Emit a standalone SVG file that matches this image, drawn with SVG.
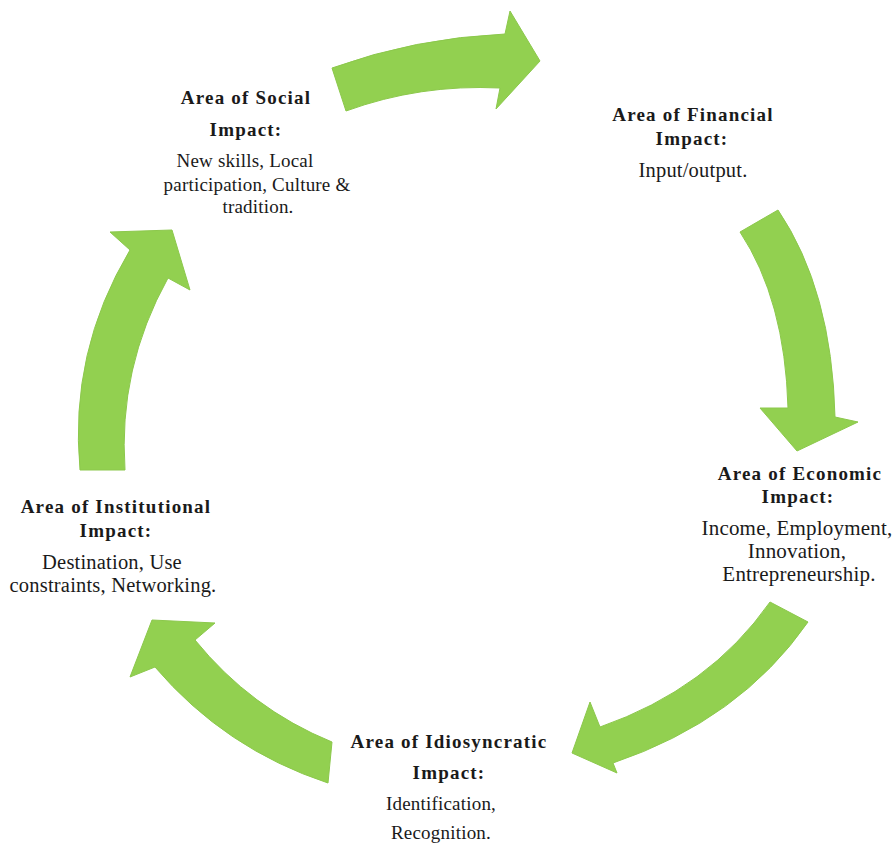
<svg xmlns="http://www.w3.org/2000/svg" width="896" height="845" viewBox="0 0 896 845">
<style>
.arrow{fill:#92D050;stroke:#8cc84c;stroke-width:1;stroke-linejoin:round}
text{font-family:"Liberation Serif","Times New Roman",serif;font-size:19px;letter-spacing:0.2px;fill:#1a1a1a;text-anchor:middle}
.t{font-weight:bold;letter-spacing:1.2px}
.m{font-size:20.5px}
.l{font-size:21px}
</style>
<rect width="896" height="845" fill="#ffffff"/>
<g id="connectors">
<path class="arrow" d="M332,68 Q415,38 505,34 L510,11 L540,61 L496,109 L500,88 Q420,84 346,111 Z"/>
<path class="arrow" d="M740,232 Q785,300 788,408 L760,408 L797,451 L858,422 L835,417 Q832,290 778,210 Z"/>
<path class="arrow" d="M770,602 Q709,689 600,727 L590,702 L572,753 L617,773 L613,763 Q740,720 808,622 Z"/>
<path class="arrow" d="M152,620 L215,623 L195,640 Q251,709 332,742 L328,783 Q225,749 155,667 L130,677 Z"/>
<path class="arrow" d="M172,230 L190,290 L168,278 Q118,368 125,470 L80,470 Q69,352 130,250 L110,232 Z"/>
</g>
<g id="social">
<text class="t" x="246" y="104">Area of Social</text>
<text class="t" x="246" y="136">Impact:</text>
<text x="245" y="167">New skills, Local</text>
<text x="257" y="191">participation, Culture &amp;</text>
<text x="258" y="213">tradition.</text>
</g>
<g id="financial">
<text class="t" x="693" y="121">Area of Financial</text>
<text class="t" x="692" y="145">Impact:</text>
<text class="m" x="693" y="177">Input/output.</text>
</g>
<g id="economic">
<text class="t" x="800" y="480">Area of Economic</text>
<text class="t" x="798" y="503">Impact:</text>
<text class="l" x="797" y="535">Income, Employment,</text>
<text class="l" x="797" y="558">Innovation,</text>
<text class="l" x="799" y="581">Entrepreneurship.</text>
</g>
<g id="idiosyncratic">
<text class="t" x="449" y="748">Area of Idiosyncratic</text>
<text class="t" x="449" y="779">Impact:</text>
<text x="441" y="810">Identification,</text>
<text x="441" y="839">Recognition.</text>
</g>
<g id="institutional">
<text class="t" x="116" y="513">Area of Institutional</text>
<text class="t" x="116" y="537">Impact:</text>
<text class="m" x="112" y="569">Destination, Use</text>
<text class="m" x="113" y="592">constraints, Networking.</text>
</g>
</svg>
